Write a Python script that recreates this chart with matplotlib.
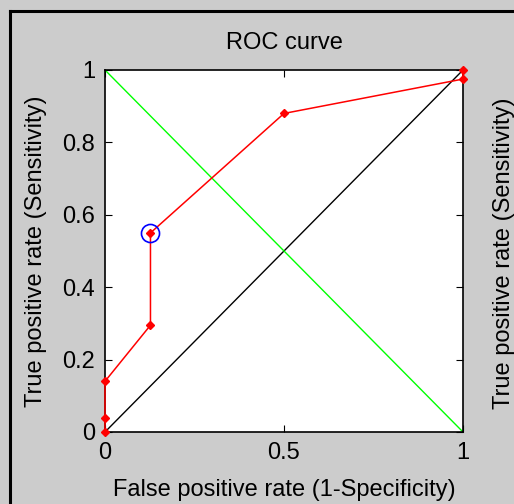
"""ROC curve, MATLAB-style figure."""
import matplotlib.pyplot as plt
from matplotlib.lines import Line2D

plt.rcParams.update({"font.family": "Liberation Sans", "font.size": 17})

fpr = [0.0, 0.0, 0.0, 0.127, 0.127, 0.5, 1.0, 1.0]
tpr = [0.0, 0.04, 0.14, 0.295, 0.55, 0.88, 0.975, 1.0]
opt_fpr, opt_tpr = 0.127, 0.55
xticks = [0, 0.5, 1]
yticks = [0, 0.2, 0.4, 0.6, 0.8, 1]

fig = plt.figure(figsize=(5.14, 5.04), dpi=100, facecolor="#cccccc")
# window frame, only left and top edges are visible in the crop
bx, by = 9.5 / 514, 1 - 10.5 / 504
fig.lines.append(Line2D([bx, bx], [-0.1, by], transform=fig.transFigure,
                        color="black", linewidth=2.2))
fig.lines.append(Line2D([bx, 1.1], [by, by], transform=fig.transFigure,
                        color="black", linewidth=2.2))

ax = fig.add_axes([105 / 514, 72 / 504, 358 / 514, 362 / 504])

ax.plot([0, 1], [0, 1], color="black", linewidth=1)
ax.plot([0, 1], [1, 0], color="#00ff00", linewidth=1)
ax.plot(fpr, tpr, color="red", linewidth=1.1, marker="D", markersize=4,
        clip_on=False, zorder=4)
ax.plot(opt_fpr, opt_tpr, "o", markersize=13, markerfacecolor="none",
        markeredgecolor="blue", markeredgewidth=1.2, zorder=5)

ax.set_xlim(0, 1)
ax.set_ylim(0, 1)
ax.set_xticks(xticks)
ax.set_xticklabels(["0", "0.5", "1"])
ax.set_yticks(yticks)
ax.set_yticklabels(["0", "0.2", "0.4", "0.6", "0.8", "1"])
ax.tick_params(direction="in", top=True, right=True, length=5, pad=7)
for s in ax.spines.values():
    s.set_linewidth(1.2)
ax.set_title("ROC curve", fontsize=17, pad=15)
ax.set_xlabel("False positive rate (1-Specificity)", labelpad=11)
ax.set_ylabel("True positive rate (Sensitivity)", labelpad=11)
fig.text(493 / 514, 251 / 504, "True positive rate (Sensitivity)", rotation=90,
         ha="left", va="center", fontsize=17)

fig.savefig("out.png", dpi=100, facecolor=fig.get_facecolor())
